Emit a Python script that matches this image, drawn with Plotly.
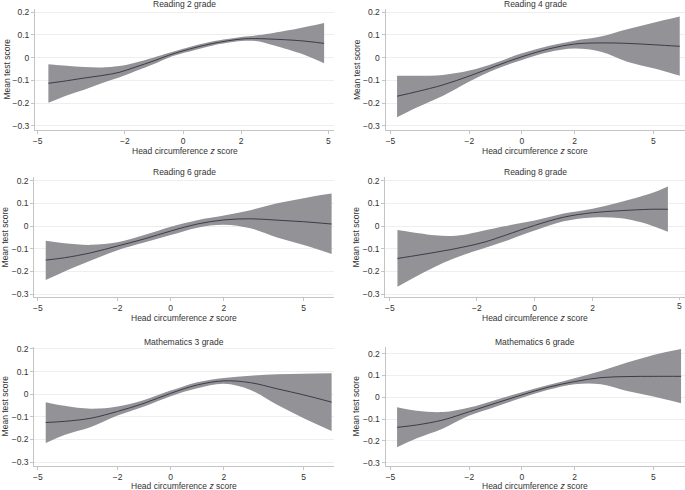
import plotly.graph_objects as go

W, H = 685, 490

# ---------------- data ----------------
r2_x     = [-4.63, -4, -3.4, -2.8, -2.2, -1.65, -1, -0.5, 0, 1, 2, 2.5, 3, 4, 4.85]
r2_mean  = [-0.113, -0.102, -0.090, -0.079, -0.065, -0.042, -0.014, 0.010, 0.030, 0.062, 0.082, 0.084, 0.082, 0.075, 0.063]
r2_upper = [-0.029, -0.036, -0.041, -0.043, -0.037, -0.022, 0.001, 0.020, 0.039, 0.071, 0.091, 0.098, 0.107, 0.130, 0.153]
r2_lower = [-0.199, -0.167, -0.142, -0.113, -0.088, -0.060, -0.028, 0.000, 0.020, 0.053, 0.073, 0.073, 0.058, 0.020, -0.025]

r4_x     = [-4.75, -4, -3, -2, -1, 0, 1, 2, 3, 4, 5, 6.0]
r4_mean  = [-0.170, -0.150, -0.120, -0.081, -0.037, 0.004, 0.038, 0.060, 0.065, 0.063, 0.057, 0.050]
r4_upper = [-0.080, -0.080, -0.076, -0.057, -0.022, 0.019, 0.051, 0.075, 0.093, 0.125, 0.154, 0.181]
r4_lower = [-0.263, -0.220, -0.168, -0.105, -0.051, -0.010, 0.024, 0.040, 0.026, -0.018, -0.047, -0.080]

r6_x     = [-4.7, -4, -3, -2, -1, 0, 1, 2, 3, 4, 5, 6.05]
r6_mean  = [-0.150, -0.140, -0.118, -0.088, -0.057, -0.022, 0.009, 0.027, 0.032, 0.026, 0.019, 0.009]
r6_upper = [-0.065, -0.076, -0.083, -0.072, -0.040, -0.003, 0.026, 0.046, 0.070, 0.100, 0.123, 0.143]
r6_lower = [-0.238, -0.200, -0.152, -0.107, -0.073, -0.040, -0.007, 0.006, -0.010, -0.050, -0.084, -0.123]

r8_x     = [-4.74, -4, -3.44, -2.86, -2.29, -1.71, -1, 0, 1, 2, 3, 4, 4.6]
r8_mean  = [-0.143, -0.128, -0.116, -0.103, -0.088, -0.070, -0.040, 0.003, 0.039, 0.059, 0.068, 0.074, 0.074]
r8_upper = [-0.018, -0.032, -0.041, -0.044, -0.035, -0.019, 0.000, 0.024, 0.055, 0.076, 0.107, 0.143, 0.174]
r8_lower = [-0.268, -0.216, -0.180, -0.147, -0.120, -0.096, -0.066, -0.020, 0.021, 0.038, 0.034, 0.004, -0.025]

m3_x     = [-4.7, -4, -3, -2, -1, 0, 1, 2, 3, 4, 5, 6.05]
m3_mean  = [-0.125, -0.120, -0.106, -0.076, -0.040, 0.004, 0.041, 0.059, 0.051, 0.024, -0.003, -0.035]
m3_upper = [-0.035, -0.051, -0.064, -0.054, -0.025, 0.016, 0.053, 0.072, 0.082, 0.088, 0.091, 0.093]
m3_lower = [-0.216, -0.180, -0.145, -0.094, -0.054, -0.009, 0.026, 0.046, 0.019, -0.047, -0.106, -0.162]

m6_x     = [-4.75, -4, -3, -2, -1, 0, 1, 2, 3, 4, 5, 6.05]
m6_mean  = [-0.138, -0.127, -0.104, -0.066, -0.027, 0.011, 0.046, 0.072, 0.090, 0.095, 0.096, 0.096]
m6_upper = [-0.046, -0.062, -0.068, -0.047, -0.012, 0.023, 0.056, 0.087, 0.121, 0.159, 0.194, 0.221]
m6_lower = [-0.229, -0.188, -0.143, -0.084, -0.043, -0.002, 0.034, 0.060, 0.060, 0.029, 0.003, -0.027]

titles = ["Reading 2 grade", "Reading 4 grade", "Reading 6 grade",
          "Reading 8 grade", "Mathematics 3 grade", "Mathematics 6 grade"]
x_ticks = [-5, -2, 0, 2, 5]
y_ticks = [0.2, 0.1, 0, -0.1, -0.2, -0.3]
y_tick_text = ["0.2", "0.1", "0", "\u22120.1", "\u22120.2", "\u22120.3"]
x_tick_text = ["\u22125", "\u22122", "0", "2", "5"]

series = [
    (r2_x, r2_mean, r2_upper, r2_lower),
    (r4_x, r4_mean, r4_upper, r4_lower),
    (r6_x, r6_mean, r6_upper, r6_lower),
    (r8_x, r8_mean, r8_upper, r8_lower),
    (m3_x, m3_mean, m3_upper, m3_lower),
    (m6_x, m6_mean, m6_upper, m6_lower),
]

# ---------------- panel geometry (pixels) ----------------
# (left px, right px, top px, bottom px, xrange, yrange)
panels = [
    (35.0, 334.0, 9.0, 130.0, [-5.09, 5.19], [-0.319, 0.2145]),
    (385.5, 685.0, 9.0, 130.0, [-5.19, 6.20], [-0.319, 0.2145]),
    (34.3, 334.0, 177.3, 297.0, [-5.13, 6.14], [-0.313, 0.215]),
    (385.3, 685.0, 177.3, 297.0, [-5.16, 5.19], [-0.313, 0.215]),
    (34.3, 334.0, 346.7, 465.5, [-5.13, 6.14], [-0.315, 0.210]),
    (385.5, 685.0, 346.7, 465.5, [-5.19, 6.20], [-0.313, 0.232]),
]

FILL = "#929297"
LINE = "#3a3d4a"
AX = "#c4c4c4"
GRID = "#eeeeee"
TXT = "#333333"
FONT = "Liberation Sans, Arial, sans-serif"
FS = 8.5

fig = go.Figure()
layout = dict(width=W, height=H, margin=dict(l=0, r=0, t=0, b=0),
              paper_bgcolor="white", plot_bgcolor="white",
              showlegend=False, font=dict(family=FONT, size=FS, color=TXT))
annotations = []
shapes = []

for i, ((xs, mean, up, lo), (l, r, t, b, xr, yr)) in enumerate(zip(series, panels)):
    n = "" if i == 0 else str(i + 1)
    xa, ya = "x" + n, "y" + n
    fig.add_trace(go.Scatter(x=xs, y=lo, mode="lines", line=dict(width=0, shape="spline", color=FILL),
                             xaxis=xa, yaxis=ya, hoverinfo="skip"))
    fig.add_trace(go.Scatter(x=xs, y=up, mode="lines", line=dict(width=0, shape="spline", color=FILL),
                             fill="tonexty", fillcolor=FILL, xaxis=xa, yaxis=ya, hoverinfo="skip"))
    fig.add_trace(go.Scatter(x=xs, y=mean, mode="lines", line=dict(width=1, shape="spline", color=LINE),
                             xaxis=xa, yaxis=ya))
    # the Reading 8 panel's last tick sits at the page edge; it is drawn separately below
    tv = x_ticks[:-1] if i == 3 else x_ticks
    tt = x_tick_text[:-1] if i == 3 else x_tick_text
    layout["xaxis" + n] = dict(domain=[l / W, r / W], range=xr, anchor=ya, automargin=False,
                               tickvals=tv, ticktext=tt, ticklabeloverflow="allow",
                               showline=True, linecolor=AX, linewidth=1,
                               ticks="outside", ticklen=3, tickcolor=AX,
                               showgrid=False, zeroline=False,
                               tickfont=dict(size=FS, color=TXT))
    layout["yaxis" + n] = dict(domain=[1 - b / H, 1 - t / H], range=yr, anchor=xa, automargin=False,
                               tickvals=y_ticks, ticktext=y_tick_text,
                               showline=True, linecolor=AX, linewidth=1,
                               ticks="outside", ticklen=3, tickcolor=AX,
                               showgrid=True, gridcolor=GRID, gridwidth=1,
                               zeroline=False, tickfont=dict(size=FS, color=TXT))
    cx = (l + r) / 2 / W
    annotations.append(dict(text=titles[i], x=(l + r) / 2 / W, y=1 - (t - 5.0) / H,
                            xref="paper", yref="paper", showarrow=False,
                            xanchor="center", yanchor="middle",
                            font=dict(size=FS, color=TXT)))
    xt_y = min(b + 21.0, 485.5)
    annotations.append(dict(text="Head circumference <i>z</i> score", x=cx, y=1 - xt_y / H,
                            xref="paper", yref="paper", showarrow=False,
                            xanchor="center", yanchor="middle",
                            font=dict(size=FS, color=TXT)))
    annotations.append(dict(text="Mean test score", x=(l - 29) / W, y=1 - (t + b) / 2 / H,
                            xref="paper", yref="paper", showarrow=False, textangle=-90,
                            xanchor="center", yanchor="middle",
                            font=dict(size=FS, color=TXT)))
    if i == 3:
        last = x_ticks[-1]
        annotations.append(dict(text=x_tick_text[-1], x=last, xref=xa, y=1 - (b + 9.0) / H,
                                yref="paper", showarrow=False, xanchor="center", yanchor="middle",
                                font=dict(size=FS, color=TXT)))
        shapes.append(dict(type="line", xref=xa, yref="paper", x0=last, x1=last,
                           y0=1 - b / H, y1=1 - (b + 3) / H, line=dict(color=AX, width=1)))

layout["annotations"] = annotations
layout["shapes"] = shapes
fig.update_layout(**layout)
fig.write_html("out.html", config={"displayModeBar": False},
               post_script="document.body.style.margin='0';document.body.style.padding='0';"
                           "document.body.style.overflow='hidden';")
